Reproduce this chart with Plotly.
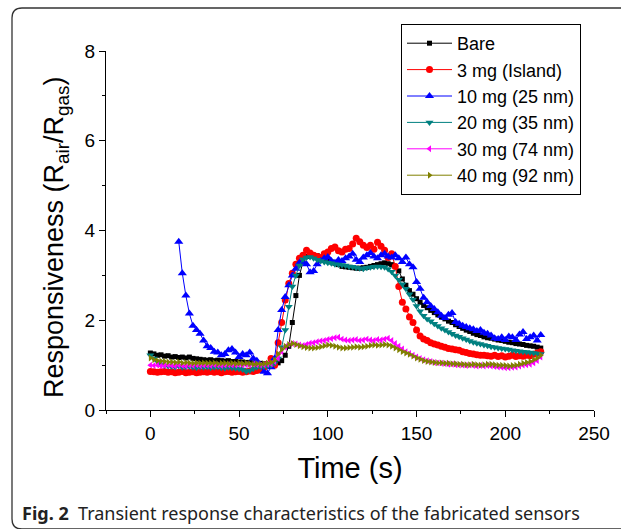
import plotly.graph_objects as go

# ---------------- data ----------------
t_main = list(range(0, 221, 2))      # sampling times (s) for most series
t_blue = list(range(16, 221, 2))     # 10 mg series starts later

bare = [1.27, 1.25, 1.22, 1.23, 1.20, 1.21,
        1.18, 1.19, 1.17, 1.18, 1.16, 1.18, 1.15, 1.14, 1.13, 1.12,
        1.11, 1.12, 1.10, 1.11, 1.10, 1.09, 1.10, 1.08, 1.08, 1.07,
        1.07, 1.06, 1.06, 1.05, 1.04, 1.04, 1.03, 1.03, 1.02, 1.04,
        1.05, 1.10, 1.22, 1.42, 1.95, 2.55, 3.00, 3.30, 3.42, 3.46,
        3.45, 3.44, 3.40, 3.36, 3.33, 3.30, 3.27, 3.24, 3.20, 3.19,
        3.18, 3.17, 3.16, 3.16, 3.17, 3.18, 3.20, 3.22, 3.24, 3.26,
        3.28, 3.26, 3.24, 3.20, 3.10, 2.92, 2.78, 2.66, 2.58, 2.48,
        2.40, 2.33, 2.28, 2.22, 2.17, 2.12, 2.07, 2.03, 1.98, 1.95,
        1.90, 1.86, 1.82, 1.78, 1.75, 1.71, 1.68, 1.66, 1.63, 1.61,
        1.60, 1.58, 1.56, 1.55, 1.53, 1.51, 1.50, 1.48, 1.47, 1.46,
        1.44, 1.43, 1.42, 1.40, 1.38]

mg3 = [0.86, 0.85, 0.84, 0.85, 0.86, 0.84,
       0.85, 0.83, 0.84, 0.86, 0.83, 0.84, 0.85, 0.83, 0.84, 0.85,
       0.84, 0.86, 0.84, 0.85, 0.83, 0.85, 0.86, 0.84, 0.85, 0.86,
       0.84, 0.85, 0.87, 0.86, 0.88, 0.90, 0.95, 1.02, 1.15, 1.00,
       1.50, 1.95, 2.45, 2.82, 3.05, 3.25, 3.38, 3.45, 3.56, 3.50,
       3.45, 3.42, 3.40, 3.48, 3.52, 3.60, 3.63, 3.55, 3.52, 3.58,
       3.60, 3.70, 3.83, 3.75, 3.67, 3.62, 3.67, 3.58, 3.74, 3.65,
       3.56, 3.40, 3.48, 3.20, 2.75, 2.40, 2.25, 2.07, 1.95, 1.78,
       1.65, 1.58, 1.55, 1.50, 1.47, 1.45, 1.42, 1.40, 1.37, 1.36,
       1.34, 1.33, 1.30, 1.28, 1.26, 1.25, 1.23, 1.22, 1.22, 1.21,
       1.20, 1.22, 1.19, 1.21, 1.18, 1.20, 1.22, 1.19, 1.21, 1.20,
       1.22, 1.21, 1.24, 1.27, 1.30]

mg10 = [3.75, 3.05, 2.55, 2.15, 1.88, 1.78, 1.70, 1.55, 1.42, 1.38,
        1.30, 1.28, 1.22, 1.25, 1.33, 1.36, 1.28, 1.18, 1.25, 1.22,
        1.28, 1.15, 1.10, 1.00, 0.85, 0.82, 0.95, 1.15, 1.78, 2.23,
        2.52, 2.78, 3.00, 3.15, 3.28, 3.30, 3.25, 3.07, 3.10, 3.25,
        3.32, 3.38, 3.41, 3.32, 3.28, 3.34, 3.32, 3.38, 3.42, 3.48,
        3.35, 3.30, 3.40, 3.45, 3.50, 3.42, 3.38, 3.45, 3.48, 3.42,
        3.40, 3.45, 3.38, 3.30, 3.40, 3.25, 3.18, 2.85, 2.70, 2.50,
        2.40, 2.32, 2.25, 2.18, 2.10, 2.05, 2.12, 2.16, 1.96, 1.92,
        1.88, 1.85, 1.82, 1.80, 1.76, 1.78, 1.72, 1.70, 1.66, 1.60,
        1.58, 1.62, 1.56, 1.64, 1.62, 1.56, 1.68, 1.74, 1.58, 1.62,
        1.66, 1.55, 1.67]

mg20 = [1.22, 1.15, 1.08, 1.02, 0.99, 0.98,
        0.97, 0.96, 0.98, 0.95, 0.96, 0.97, 0.95, 0.94, 0.96, 0.95,
        0.96, 0.94, 0.95, 0.96, 0.94, 0.93, 0.95, 0.94, 0.93, 0.92,
        0.90, 0.86, 0.88, 0.92, 0.95, 0.96, 0.97, 0.98, 1.00, 1.04,
        1.15, 1.40, 1.78, 2.30, 2.75, 3.00, 3.22, 3.36, 3.40, 3.41,
        3.38, 3.35, 3.32, 3.30, 3.28, 3.27, 3.25, 3.24, 3.23, 3.22,
        3.20, 3.19, 3.17, 3.16, 3.15, 3.17, 3.18, 3.19, 3.20, 3.19,
        3.18, 3.14, 3.08, 3.00, 2.90, 2.80, 2.70, 2.58, 2.46, 2.32,
        2.20, 2.10, 2.03, 1.98, 1.92, 1.87, 1.82, 1.78, 1.74, 1.70,
        1.66, 1.63, 1.60, 1.57, 1.54, 1.51, 1.49, 1.47, 1.45, 1.43,
        1.41, 1.40, 1.38, 1.37, 1.36, 1.35, 1.33, 1.32, 1.31, 1.30,
        1.29, 1.28, 1.27, 1.26, 1.25]

mg30 = [1.00, 0.99, 1.00, 0.98, 0.99, 1.00,
        0.99, 0.98, 1.00, 0.99, 0.98, 1.00, 0.99, 1.01, 0.99, 1.00,
        1.00, 0.99, 1.01, 1.00, 0.99, 1.00, 1.01, 1.00, 1.00, 1.01,
        1.00, 1.01, 1.00, 1.02, 1.01, 1.00, 1.01, 1.02, 1.03, 1.08,
        1.15, 1.30, 1.40, 1.46, 1.48, 1.47, 1.45, 1.44, 1.46, 1.49,
        1.50, 1.52, 1.54, 1.55, 1.57, 1.59, 1.61, 1.62, 1.58, 1.56,
        1.55, 1.56, 1.57, 1.55, 1.56, 1.58, 1.56, 1.55, 1.57, 1.56,
        1.58, 1.60, 1.55, 1.48, 1.42, 1.36, 1.30, 1.26, 1.22, 1.18,
        1.15, 1.12, 1.10, 1.08, 1.06, 1.05, 1.04, 1.03, 1.02, 1.02,
        1.01, 1.00, 1.00, 0.99, 1.00, 0.99, 0.98, 0.99, 0.98, 0.99,
        0.98, 0.97, 0.96, 0.95, 0.94, 0.94, 0.95, 0.96, 0.98, 1.00,
        1.01, 1.02, 1.05, 1.10, 1.18]

mg40 = [1.16, 1.12, 1.10, 1.09, 1.08, 1.07,
        1.07, 1.06, 1.07, 1.05, 1.06, 1.05, 1.04, 1.05, 1.04, 1.05,
        1.04, 1.04, 1.05, 1.03, 1.04, 1.04, 1.03, 1.04, 1.03, 1.04,
        1.03, 1.04, 1.03, 1.02, 1.03, 1.02, 1.03, 1.04, 1.06, 1.11,
        1.25, 1.35, 1.42, 1.46, 1.48, 1.46, 1.43, 1.41, 1.39, 1.38,
        1.38, 1.39, 1.41, 1.43, 1.45, 1.44, 1.42, 1.40, 1.38, 1.38,
        1.39, 1.40, 1.41, 1.40, 1.41, 1.42, 1.44, 1.45, 1.44, 1.45,
        1.46, 1.45, 1.42, 1.38, 1.34, 1.30, 1.27, 1.24, 1.20, 1.16,
        1.13, 1.10, 1.08, 1.07, 1.06, 1.05, 1.05, 1.04, 1.04, 1.03,
        1.03, 1.02, 1.02, 1.01, 1.01, 1.02, 1.01, 1.00, 1.01, 1.02,
        1.02, 1.01, 1.00, 1.00, 0.99, 0.98, 0.99, 1.00, 1.02, 1.04,
        1.06, 1.08, 1.12, 1.16, 1.22]

names = ["Bare", "3 mg (Island)", "10 mg (25 nm)", "20 mg (35 nm)",
         "30 mg (74 nm)", "40 mg (92 nm)"]
x_ticks = [0, 50, 100, 150, 200, 250]
y_ticks = [0, 2, 4, 6, 8]

# ---------------- figure ----------------
series = [
    (t_main, bare, "#000000", "square", 5),
    (t_main, mg3, "#FF0000", "circle", 7),
    (t_blue, mg10, "#0000FF", "triangle-up", 8),
    (t_main, mg20, "#008080", "triangle-down", 7),
    (t_main, mg30, "#FF00FF", "triangle-left", 6),
    (t_main, mg40, "#808000", "triangle-right", 6),
]

fig = go.Figure()
for (tx, ys, col, sym, sz), nm in zip(series, names):
    assert len(tx) == len(ys), (nm, len(tx), len(ys))
    fig.add_trace(go.Scatter(
        x=tx, y=ys, name=nm, mode="lines+markers",
        line=dict(color=col, width=1),
        marker=dict(color=col, symbol=sym, size=sz, line=dict(width=0)),
    ))

L, R, T, B = 106, 27, 51, 119
W, H = 621, 529
pw, ph = W - L - R, H - T - B


def px(x):
    return (x - L) / pw


def py(y):
    return (H - B - y) / ph


frame_path = (f"M {px(640)},{py(8)} L {px(22)},{py(8)} "
              f"Q {px(12)},{py(8)} {px(12)},{py(18)} L {px(12)},{py(519)} "
              f"Q {px(12)},{py(529)} {px(22)},{py(529)} L {px(640)},{py(529)}")

FONT = "Liberation Sans, Arial, sans-serif"
axis_font = dict(family=FONT, size=19, color="#000")

fig.update_layout(
    width=W, height=H,
    margin=dict(l=L, r=R, t=T, b=B, autoexpand=False),
    paper_bgcolor="white", plot_bgcolor="white",
    font=axis_font,
    showlegend=True,
    legend=dict(
        x=px(401), y=py(24), xanchor="left", yanchor="top",
        bordercolor="#000", borderwidth=1, bgcolor="white",
        font=dict(family=FONT, size=18, color="#000"),
        itemwidth=45, tracegroupgap=0,
    ),
    xaxis=dict(
        range=[-25, 250], tickvals=x_ticks, showgrid=False, zeroline=False,
        showline=True, linecolor="#000", linewidth=1,
        ticks="outside", ticklen=6, tickwidth=1, tickcolor="#000",
        minor=dict(dtick=25, ticks="outside", ticklen=3, tickcolor="#000"),
        tickfont=axis_font, automargin=False,
        title=dict(text="Time (s)", font=dict(family=FONT, size=29), standoff=14),
    ),
    yaxis=dict(
        range=[0, 8], tickvals=y_ticks, showgrid=False, zeroline=False,
        showline=True, linecolor="#000", linewidth=1,
        ticks="outside", ticklen=6, tickwidth=1, tickcolor="#000",
        minor=dict(dtick=1, ticks="outside", ticklen=3, tickcolor="#000"),
        tickfont=axis_font, automargin=False,
    ),
    shapes=[dict(type="path", xref="paper", yref="paper", path=frame_path,
                 line=dict(color="#333", width=1.3))],
    annotations=[
        dict(xref="paper", yref="paper", x=px(56), y=py(237),
             xanchor="center", yanchor="middle", textangle=-90, showarrow=False,
             text="Responsiveness (R<sub>air</sub>/R<sub>gas</sub>)",
             font=dict(family=FONT, size=27, color="#000")),
        dict(xref="paper", yref="paper", x=px(20), y=py(513),
             xanchor="left", yanchor="middle", showarrow=False,
             text="<b>Fig. 2</b>  Transient response characteristics of the fabricated sensors",
             font=dict(family="Noto Sans, Open Sans, sans-serif", size=18, color="#222")),
    ],
)

fig.write_html("out.html", config={"displayModeBar": False},
               post_script="document.body.style.margin='0';")
